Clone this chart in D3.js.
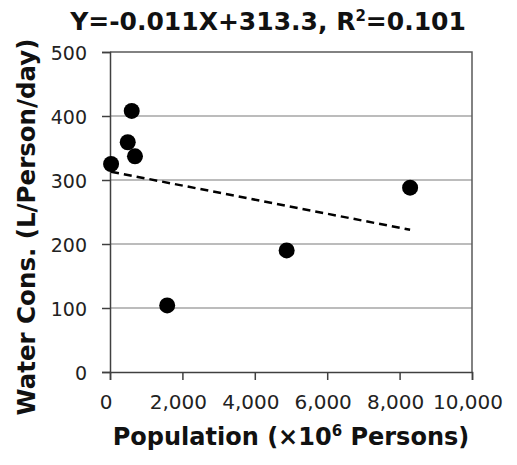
<!DOCTYPE html>
<html>
<head>
<meta charset="utf-8">
<script src="https://cdn.jsdelivr.net/npm/d3@7"></script>
<style>
  body { margin: 0; background: #fff; }
  text { font-family: "DejaVu Sans", Verdana, sans-serif; }
</style>
</head>
<body>
<svg id="chart"></svg>
<script>
// population (x10^6 persons) vs water consumption (L/person/day)
const population = [30, 490, 600, 690, 1580, 4880, 8290];
const waterCons = [325, 359, 408, 337, 104, 190, 288];

const xTicks = [0, 2000, 4000, 6000, 8000, 10000];
const yTicks = [0, 100, 200, 300, 400, 500];

// trend line from the title
const slope = -0.011;
const intercept = 313.3;

const width = 517;
const height = 465;
const margin = { top: 52, right: 45, bottom: 93, left: 110 };

const svg = d3.select("#chart")
  .attr("width", width)
  .attr("height", height);

const x = d3.scaleLinear()
  .domain([0, 10000])
  .range([margin.left, width - margin.right]);

const y = d3.scaleLinear()
  .domain([0, 500])
  .range([height - margin.bottom, margin.top]);

// gridlines
svg.append("g")
  .selectAll("line")
  .data(yTicks.slice(1, -1))
  .enter()
    .append("line")
    .attr("x1", x(0))
    .attr("x2", x(10000))
    .attr("y1", d => y(d))
    .attr("y2", d => y(d))
    .attr("stroke", "#a6a6a6")
    .attr("stroke-width", 1.5);

// plot frame (top + right)
svg.append("path")
  .attr("d", `M${x(0)},${y(500)}H${x(10000)}V${y(0)}`)
  .attr("fill", "none")
  .attr("stroke", "#595959")
  .attr("stroke-width", 1.5);

const xAxis = svg.append("g")
  .attr("transform", `translate(0,${y(0)})`)
  .call(d3.axisBottom(x).tickValues(xTicks).tickSize(8).tickPadding(15).tickFormat(d3.format(",")));

const yAxis = svg.append("g")
  .attr("transform", `translate(${x(0)},0)`)
  .call(d3.axisLeft(y).tickValues(yTicks).tickSize(8).tickPadding(15));

[xAxis, yAxis].forEach(ax => {
  ax.select(".domain").attr("stroke", "#404040").attr("stroke-width", 1.5);
  ax.selectAll(".tick line").attr("stroke", "#404040").attr("stroke-width", 1.5);
  ax.selectAll("text").attr("fill", "#222").attr("font-family", "DejaVu Sans, Verdana, sans-serif");
});
xAxis.selectAll("text").attr("font-size", 20).attr("dx", -4.5);
yAxis.selectAll("text").attr("font-size", 19).attr("dy", "0.38em");

// regression line
const xExt = d3.extent(population);
svg.append("line")
  .attr("x1", x(xExt[0]))
  .attr("y1", y(slope * xExt[0] + intercept))
  .attr("x2", x(xExt[1]))
  .attr("y2", y(slope * xExt[1] + intercept))
  .attr("stroke", "#000")
  .attr("stroke-width", 2.5)
  .attr("stroke-dasharray", "8,5");

// points
svg.append("g")
  .selectAll("circle")
  .data(population.map((p, i) => ({ p, w: waterCons[i] })))
  .enter()
    .append("circle")
    .attr("cx", d => x(d.p))
    .attr("cy", d => y(d.w))
    .attr("r", 8)
    .attr("fill", "#000");

// title
const title = svg.append("text")
  .attr("x", 268)
  .attr("y", 29.5)
  .attr("text-anchor", "middle")
  .attr("font-size", 25)
  .attr("font-weight", "bold")
  .attr("fill", "#111");
title.append("tspan").text("Y=-0.011X+313.3, R");
title.append("tspan").attr("font-size", 15).attr("dy", -9).text("2");
title.append("tspan").attr("dy", 9).text("=0.101");

// x axis title
const xTitle = svg.append("text")
  .attr("x", 291)
  .attr("y", 445)
  .attr("text-anchor", "middle")
  .attr("font-size", 24)
  .attr("font-weight", "bold")
  .attr("fill", "#111");
xTitle.append("tspan").text("Population (\u00d710");
xTitle.append("tspan").attr("font-size", 15).attr("dy", -9).text("6");
xTitle.append("tspan").attr("dy", 9).text(" Persons)");

// y axis title
svg.append("text")
  .attr("transform", `translate(35,227) rotate(-90)`)
  .attr("text-anchor", "middle")
  .attr("font-size", 24.5)
  .attr("font-weight", "bold")
  .attr("fill", "#111")
  .text("Water Cons. (L/Person/day)");
</script>
</body>
</html>
